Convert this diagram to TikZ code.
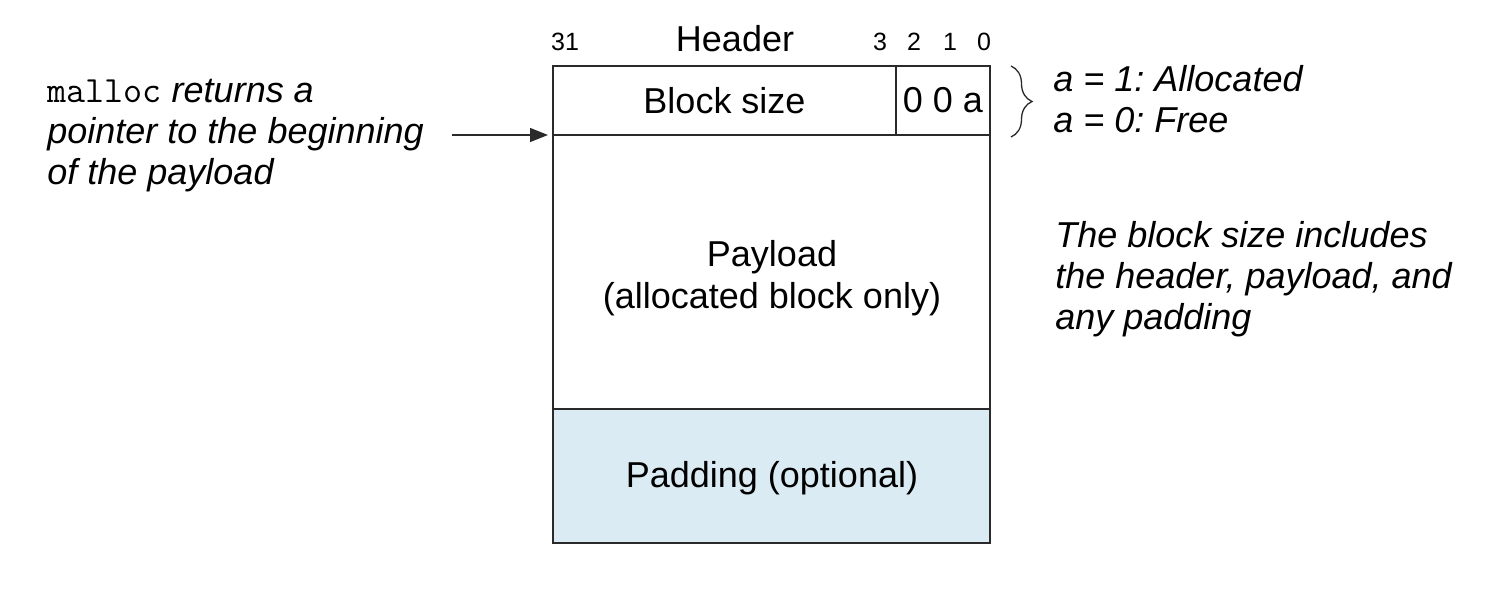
\documentclass[tikz,border=0pt]{standalone}
\usepackage{fontspec}
\setmainfont{Liberation Sans}
\usetikzlibrary{arrows.meta,decorations.pathreplacing}
\definecolor{padblue}{HTML}{DAEBF3}
\definecolor{linegray}{HTML}{2A2A2A}
\begin{document}
\frenchspacing
\begin{tikzpicture}[x=0.5pt,y=-0.5pt,
  cell/.style={draw=linegray,line width=0.7pt,rectangle,inner sep=0pt,outer sep=0pt,font=\fontsize{18}{21}\selectfont,align=center},
  bitnum/.style={font=\fontsize{12.5}{14}\selectfont,inner sep=0pt},
  note/.style={font=\fontsize{18}{20.5}\selectfont\itshape,align=left,anchor=west,inner sep=0pt}]
\useasboundingbox (0,0) rectangle (1502,588);
% cells
\node[cell,minimum width=171.5pt,minimum height=34.5pt] (bsize) at (724.5,100.5) {Block size};
\node[cell,minimum width=47pt,minimum height=34.5pt] (flags) at (943,100.5) {0 0 a};
\node[cell,minimum width=218.5pt,minimum height=137pt] (payload) at (771.5,272) {};
\node[font=\fontsize{18}{21}\selectfont,align=center,inner sep=0pt] (paytext) at (772,278) {Payload\\(allocated block only)};
\node[cell,fill=padblue,minimum width=218.5pt,minimum height=67pt] (padding) at (771.5,476) {};
\node[font=\fontsize{18}{21}\selectfont,inner sep=0pt] (padtext) at (772,478) {Padding (optional)};
% header labels
\node[font=\fontsize{18}{20}\selectfont,inner sep=0pt] (hdr) at (735,39) {Header};
\node[bitnum] (b31) at (565,42) {31};
\node[bitnum] (b3) at (880,42) {3};
\node[bitnum] (b2) at (914,42) {2};
\node[bitnum] (b1) at (950,42) {1};
\node[bitnum] (b0) at (984,42) {0};
% left note and arrow
\node[note] (ptrtext) at (47,136) {{\upshape\fontsize{18.5}{20}\selectfont\ttfamily malloc} returns a\\pointer to the beginning\\of the payload};
\coordinate (ptr) at (452,135);
\draw[linegray,line width=0.7pt,-{Triangle[length=9pt,width=7pt]},shorten >=2.5pt] (ptr) -- (payload.north west);
% brace
\coordinate (brtop) at (1011,66);
\coordinate (brbot) at (1011,137);
\draw[linegray,line width=0.65pt,decorate,decoration={brace,amplitude=10.5pt}] (brtop) -- (brbot);
\node[note] (alloc) at (1053,79) {a = 1: Allocated};
\node[note] (free) at (1053,120) {a = 0: Free};
% right note
\node[note] (sizenote) at (1055,279) {The block size includes\\the header, payload, and\\any padding};
\end{tikzpicture}
\end{document}
